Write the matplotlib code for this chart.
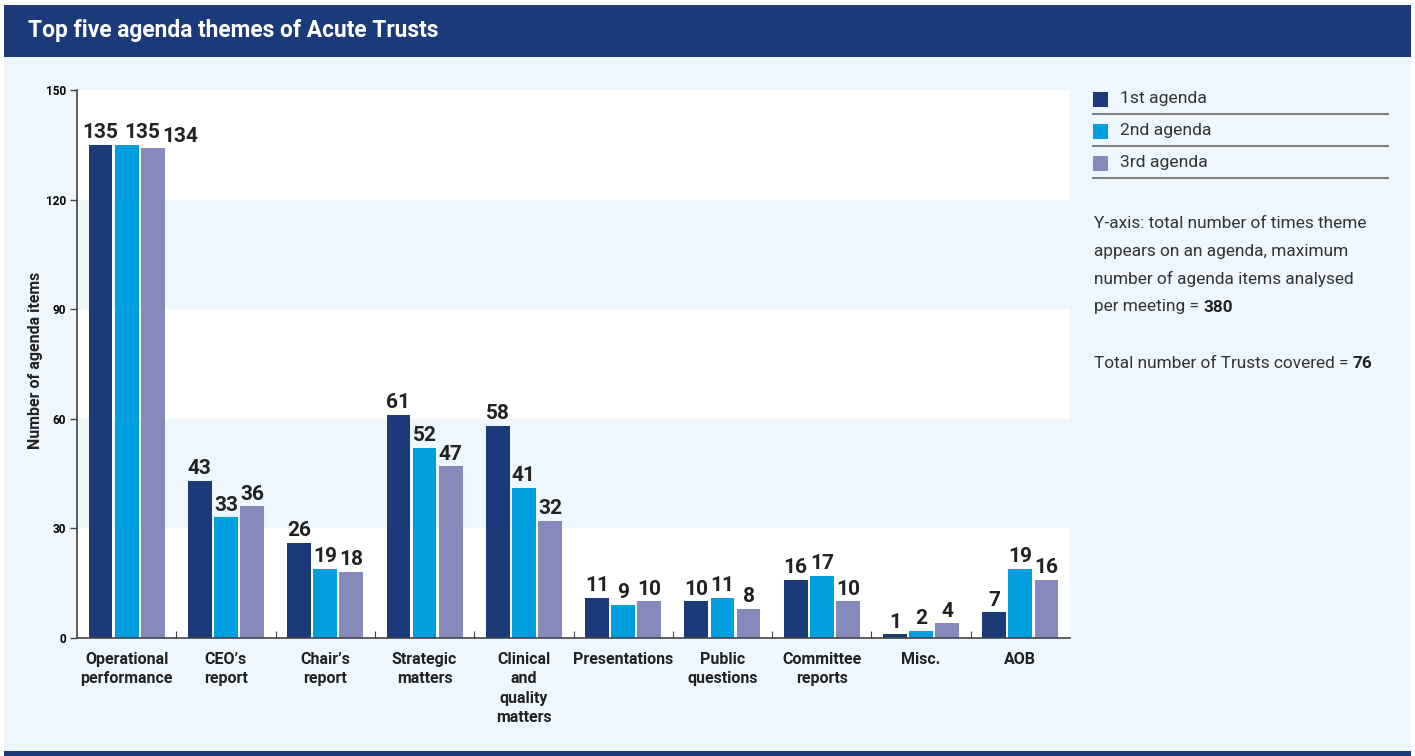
import matplotlib
matplotlib.use("Agg")
import matplotlib.pyplot as plt
from matplotlib.patches import Rectangle
from matplotlib.lines import Line2D
import numpy as np

plt.rcParams['font.family'] = ['Roboto', 'DejaVu Sans']

categories = ["Operational\nperformance", "CEO’s\nreport", "Chair’s\nreport", "Strategic\nmatters",
              "Clinical\nand\nquality\nmatters", "Presentations", "Public\nquestions", "Committee\nreports",
              "Misc.", "AOB"]
first = [135, 43, 26, 61, 58, 11, 10, 16, 1, 7]
second = [135, 33, 19, 52, 41, 9, 11, 17, 2, 19]
third = [134, 36, 18, 47, 32, 10, 8, 10, 4, 16]
series_names = ["1st agenda", "2nd agenda", "3rd agenda"]
colors = ["#1b3a7a", "#009fdf", "#8589bb"]

navy = "#1b3a7a"
bg = "#eef7fe"
W, H = 1415, 756

fig = plt.figure(figsize=(W / 100, H / 100), dpi=100)
fig.patch.set_facecolor("white")

# background panel + title bar + bottom bar
fig.patches.append(Rectangle((4 / W, 0), (W - 8) / W, 1 - 5 / H, transform=fig.transFigure,
                             facecolor=bg, edgecolor="none", zorder=-10))
fig.patches.append(Rectangle((4 / W, 1 - 57 / H), (W - 8) / W, 52 / H, transform=fig.transFigure,
                             facecolor=navy, edgecolor="none", zorder=-9))
fig.patches.append(Rectangle((4 / W, 0), (W - 8) / W, 5 / H, transform=fig.transFigure,
                             facecolor=navy, edgecolor="none", zorder=-9))
fig.text(28 / W, 1 - 31 / H, "Top five agenda themes of Acute Trusts", color="white",
         fontsize=16.4, fontweight="bold", va="center", ha="left")

ax = fig.add_axes([77 / W, (H - 638) / H, (1070 - 77) / W, (638 - 90) / H])
ax.set_facecolor("white")
for lo in (30, 90):
    ax.axhspan(lo, lo + 30, color=bg, zorder=0, lw=0)

x = np.arange(len(categories))
bw = 0.24
step = 0.263
for i, (vals, c) in enumerate(zip([first, second, third], colors)):
    pos = x + (i - 1) * step
    ax.bar(pos, vals, width=bw, color=c, zorder=2, label=series_names[i])
    for k, (p, v) in enumerate(zip(pos, vals)):
        # the tall first group has its labels nudged apart so they don't collide
        dx = [0, 11, 20][i] if k == 0 else 0
        ax.annotate(str(v), xy=(p, v), xytext=(dx, 2), textcoords="offset points",
                    ha="center", va="bottom", fontsize=15, fontweight="bold", color="#222222")

ax.set_xlim(-0.5, len(categories) - 0.5)
ax.set_ylim(0, 150)
ax.set_yticks(range(0, 151, 30))
ax.tick_params(axis="y", labelsize=8.5, length=5, width=1, color="#444444", pad=3)
for t in ax.get_yticklabels():
    t.set_fontweight("bold")
ax.set_xticks(np.arange(0.5, len(categories) - 0.5, 1))
ax.set_xticklabels([])
ax.tick_params(axis="x", which="major", direction="in", length=5, color="#444444")
ax.set_xticks(x, minor=True)
ax.set_xticklabels(categories, minor=True, fontsize=11.5, fontweight="bold", color="#222222",
                   linespacing=1.37, va="top")
ax.tick_params(axis="x", which="minor", length=0, pad=10)

for s in ("top", "right"):
    ax.spines[s].set_visible(False)
for s in ("left", "bottom"):
    ax.spines[s].set_color("#444444")
    ax.spines[s].set_linewidth(1.2)

ax.set_ylabel("Number of agenda items", fontsize=11.5, fontweight="bold", color="#222222")
ax.yaxis.set_label_coords(-0.034, 0.507)

# legend on the right
for i, (name, c) in enumerate(zip(series_names, colors)):
    yc = 99 + 32 * i
    fig.patches.append(Rectangle((1093 / W, 1 - (yc + 8) / H), 15 / W, 15 / H,
                                 transform=fig.transFigure, facecolor=c, edgecolor="none"))
    fig.text(1120 / W, 1 - yc / H, name, fontsize=12.6, color="#333333", va="center", ha="left")
    fig.add_artist(Line2D([1093 / W, 1388 / W], [1 - (yc + 15) / H] * 2, transform=fig.transFigure,
                          color="#808080", lw=1.5))

note_lines = ["Y-axis: total number of times theme", "appears on an agenda, maximum",
              "number of agenda items analysed", "per meeting = "]
for j, line in enumerate(note_lines):
    t = fig.text(1094 / W, 1 - (223 + 28 * j) / H, line, fontsize=12.4, color="#333333",
                 va="center", ha="left")
fig.add_artist(plt.Annotation("380", xy=(1, 0.5), xycoords=t, va="center", ha="left",
                              fontsize=12.4, fontweight="bold", color="#222222"))
t2 = fig.text(1094 / W, 1 - 363 / H, "Total number of Trusts covered = ", fontsize=12.4,
              color="#333333", va="center", ha="left")
fig.add_artist(plt.Annotation("76", xy=(1, 0.5), xycoords=t2, va="center", ha="left",
                              fontsize=12.4, fontweight="bold", color="#222222"))

fig.savefig("out.png", dpi=100)
